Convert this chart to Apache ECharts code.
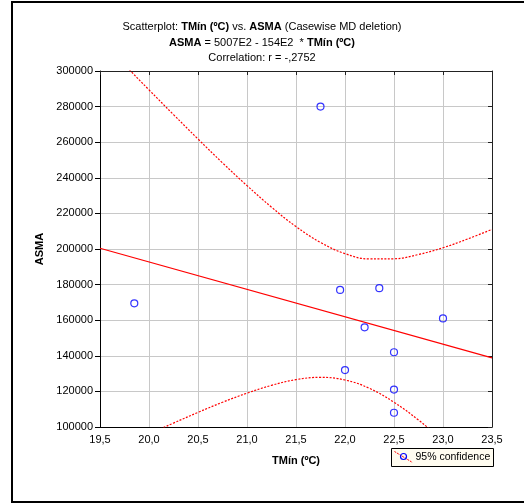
<!DOCTYPE html>
<html>
<head>
<meta charset="utf-8">
<script src="https://cdn.jsdelivr.net/npm/echarts@6/dist/echarts.min.js"></script>
<style>
  html, body { margin: 0; padding: 0; background: #fff; }
  #chart { width: 524px; height: 504px; }
</style>
</head>
<body>
<div id="chart"></div>
<script>
// Observed cases
var tmin = [19.85, 21.75, 21.95, 22.0, 22.2, 22.35, 22.5, 22.5, 22.5, 23.0];
var asma = [169500, 280000, 177000, 132000, 156000, 178000, 142000, 121000, 108000, 161000];

// Fitted line: ASMA = 5007E2 - 154E2 * TMin
var intercept = 500700;
var slope = -15400;
var fitRange = [19.5, 23.5];

// 95% confidence band of the fitted mean
var bandX =     [19.5,   19.75,  20.0,   20.25,  20.5,   20.75,  21.0,   21.25,  21.5,   21.75,  22.0,   22.25,  22.5,   22.75,  23.0,   23.25,  23.5];
var bandUpper = [317700, 303500, 289400, 275500, 261800, 248400, 235600, 223500, 212600, 203700, 197400, 194400, 194500, 196900, 200700, 205600, 211000];
var bandLower = [83100,  89600,  96000,  102200, 108200, 113900, 119000, 123400, 126600, 127900, 126400, 121700, 113900, 103900, 92300,  79800,  66600];

// Axis ranges
var xMin = 19.5, xMax = 23.5, xStep = 0.5;
var yMin = 100000, yMax = 300000, yStep = 20000;

var FONT = 'Liberation Sans, Arial, sans-serif';
var RED = '#ff0000';
var BLUE = '#0000ff';

function pairs(xs, ys) {
  return xs.map(function (x, i) { return [x, ys[i]]; });
}
var fitData = fitRange.map(function (x) { return [x, intercept + slope * x]; });

var chart = echarts.init(document.getElementById('chart'), null, { renderer: 'canvas' });

var titleStyle = {
  fontFamily: FONT, fontSize: 11, fontWeight: 'normal', color: '#000',
  rich: {
    b: { fontFamily: FONT, fontSize: 11, fontWeight: 'bold', color: '#000' }
  }
};

chart.setOption({
  backgroundColor: '#ffffff',
  animation: false,
  textStyle: { fontFamily: FONT },
  title: [
    { text: 'Scatterplot: {b|TMín (ºC)} vs. {b|ASMA} (Casewise MD deletion)', left: 'center', top: 21, padding: [0, 0, 0, 16], textStyle: titleStyle },
    { text: '{b|ASMA} = 5007E2 - 154E2  * {b|TMín (ºC)}', left: 'center', top: 37, padding: [0, 0, 0, 16], textStyle: titleStyle },
    { text: 'Correlation: r = -,2752', left: 'center', top: 52, padding: [0, 0, 0, 16], textStyle: titleStyle }
  ],
  grid: { left: 100, right: 32, top: 71, bottom: 77, containLabel: false },
  xAxis: [
    {
      type: 'value', min: xMin, max: xMax, interval: xStep, position: 'bottom',
      name: 'TMín (ºC)', nameLocation: 'middle', nameGap: 28,
      nameTextStyle: { fontFamily: FONT, fontSize: 11, fontWeight: 'bold', color: '#000' },
      axisLine: { onZero: false, lineStyle: { color: '#000', width: 1 } },
      axisTick: { show: false },
      axisLabel: {
        margin: 7, fontFamily: FONT, fontSize: 11, color: '#000',
        formatter: function (v) { return v.toFixed(1).replace('.', ','); }
      },
      splitLine: { show: true, lineStyle: { color: '#c8c8c8', width: 1 } }
    },
    {
      type: 'value', min: xMin, max: xMax, interval: xStep, position: 'top',
      axisLine: { onZero: false, lineStyle: { color: '#222', width: 1 } },
      axisTick: { show: true, inside: true, length: 4, lineStyle: { color: '#222' } },
      axisLabel: { show: false },
      splitLine: { show: false }
    }
  ],
  yAxis: [
    {
      type: 'value', min: yMin, max: yMax, interval: yStep, position: 'left',
      name: 'ASMA', nameLocation: 'middle', nameGap: 40, nameRotate: 90,
      nameTextStyle: { fontFamily: FONT, fontSize: 11, fontWeight: 'bold', color: '#000' },
      axisLine: { onZero: false, lineStyle: { color: '#000', width: 1 } },
      axisTick: { show: true, inside: false, length: 5, lineStyle: { color: '#000' } },
      axisLabel: {
        margin: 7, fontFamily: FONT, fontSize: 11, color: '#000',
        formatter: function (v) { return String(v); }
      },
      splitLine: { show: true, lineStyle: { color: '#c8c8c8', width: 1 } }
    },
    {
      type: 'value', min: yMin, max: yMax, interval: yStep, position: 'right',
      axisLine: { onZero: false, lineStyle: { color: '#222', width: 1 } },
      axisTick: { show: true, inside: true, length: 4, lineStyle: { color: '#222' } },
      axisLabel: { show: false },
      splitLine: { show: false }
    }
  ],
  series: [
    {
      name: 'upper', type: 'line', data: pairs(bandX, bandUpper), smooth: 0.4,
      showSymbol: false, clip: true, silent: true,
      lineStyle: { color: RED, width: 1.2, type: [2, 1.5] }, z: 3
    },
    {
      name: 'lower', type: 'line', data: pairs(bandX, bandLower), smooth: 0.4,
      showSymbol: false, clip: true, silent: true,
      lineStyle: { color: RED, width: 1.2, type: [2, 1.5] }, z: 3
    },
    {
      name: 'fit', type: 'line', data: fitData, showSymbol: false, clip: true, silent: true,
      lineStyle: { color: RED, width: 1.2 }, z: 4
    },
    {
      name: 'cases', type: 'scatter', data: pairs(tmin, asma),
      symbol: 'circle', symbolSize: 7,
      itemStyle: { color: 'rgba(0,0,0,0)', borderColor: BLUE, borderWidth: 1.2 }, z: 5
    }
  ],
  graphic: [
    // outer frame
    { type: 'rect', shape: { x: 12, y: 2, width: 700, height: 500 },
      style: { fill: null, stroke: '#000', lineWidth: 2 }, silent: true, z: 0 },
    // legend box
    { type: 'group', left: 391, top: 448, children: [
      { type: 'rect', shape: { x: 0, y: 0, width: 102, height: 18 },
        style: { fill: '#fffcf0', stroke: '#000', lineWidth: 1 } },
      { type: 'line', shape: { x1: 3, y1: 3, x2: 21, y2: 14 },
        style: { stroke: RED, lineWidth: 1, lineDash: [2, 1] } },
      { type: 'circle', shape: { cx: 12, cy: 8, r: 3 },
        style: { fill: null, stroke: BLUE, lineWidth: 1.2 } },
      { type: 'text', x: 24, y: 9,
        style: { text: '95% confidence', fontFamily: FONT, fontSize: 10.5, fill: '#000', verticalAlign: 'middle' } }
    ] }
  ]
});
</script>
</body>
</html>
